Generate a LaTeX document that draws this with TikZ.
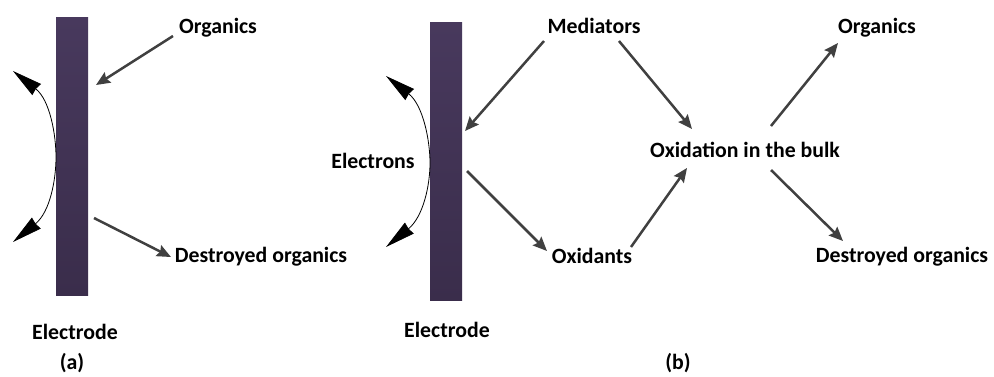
\documentclass[tikz,border=0pt]{standalone}
\usepackage{fontspec}
\setmainfont{Carlito}
\usetikzlibrary{arrows.meta}
\definecolor{barTop}{HTML}{48395D}
\definecolor{barBot}{HTML}{3A2D4B}
\definecolor{flowGray}{HTML}{404040}
\tikzset{
  lbl/.style={font=\bfseries\fontsize{21.8}{26}\selectfont, anchor=base, inner sep=0pt, text=black},
  flow/.style={draw=flowGray, line width=2.5pt, -{Stealth[length=14pt,width=12pt,inset=2pt]}},
  dart/.style={draw=black, line width=0.8pt,
    {Stealth[length=30pt,width=14pt,inset=1pt]}-{Stealth[length=30pt,width=14pt,inset=1pt]}},
  electrode/.style={rectangle, minimum width=32pt, minimum height=278pt, inner sep=0pt,
    top color=barTop, bottom color=barBot, draw=none}
}
\begin{document}
\begin{tikzpicture}[x=1pt, y=-1pt]
\useasboundingbox[fill=white] (0,0) rectangle (994,376);

% ---------- (a) direct oxidation ----------
\node[electrode] (elA) at (72,156) {};
\node[lbl] (orgA) at (218,33) {Organics};
\node[lbl] (desA) at (261,262) {Destroyed organics};
\node[lbl] (eA) at (75,339) {Electrode};
\node[lbl] (capA) at (72,369) {(a)};

\coordinate (orgAout) at (173,36);
\coordinate (elAin) at (96,85);
\coordinate (elAout) at (94,218);
\coordinate (desAin) at (171,257);
\draw[flow] (orgAout) -- (elAin);
\draw[flow] (elAout) -- (desAin);

\coordinate (arcAtop) at (13,71);
\coordinate (arcAbot) at (13,242);
\draw[dart] (arcAtop) .. controls (50,100) and (56,135) .. (56,157)
            .. controls (56,180) and (50,212) .. (arcAbot);

% ---------- (b) indirect oxidation ----------
\node[electrode] (elB) at (446,161) {};
\node[lbl] (elec) at (373,168) {Electrons};
\node[lbl] (med) at (594,33) {Mediators};
\node[lbl] (oxd) at (592,263) {Oxidants};
\node[lbl] (bulk) at (745,157) {Oxidation in the bulk};
\node[lbl] (orgB) at (877,33) {Organics};
\node[lbl] (desB) at (902,262) {Destroyed organics};
\node[lbl] (eB) at (447,337) {Electrode};
\node[lbl] (capB) at (678,369) {(b)};

\coordinate (medL) at (544,41);
\coordinate (elBin) at (465,131);
\coordinate (medR) at (619,41);
\coordinate (bulkTL) at (692,129);
\coordinate (elBout) at (467,171);
\coordinate (oxdIn) at (547,251);
\coordinate (oxdOut) at (631,247);
\coordinate (bulkBL) at (687,168);
\coordinate (bulkTR) at (771,126);
\coordinate (orgBin) at (838,43);
\coordinate (bulkBR) at (771,170);
\coordinate (desBin) at (843,241);

\draw[flow] (medL) -- (elBin);
\draw[flow] (medR) -- (bulkTL);
\draw[flow] (elBout) -- (oxdIn);
\draw[flow] (oxdOut) -- (bulkBL);
\draw[flow] (bulkTR) -- (orgBin);
\draw[flow] (bulkBR) -- (desBin);

\begin{scope}[shift={(373,5)}]
  \coordinate (arcBtop) at (13,71);
  \coordinate (arcBbot) at (13,242);
  \draw[dart] (arcBtop) .. controls (50,100) and (57,135) .. (57,158)
              .. controls (57,181) and (50,212) .. (arcBbot);
\end{scope}
\end{tikzpicture}
\end{document}
